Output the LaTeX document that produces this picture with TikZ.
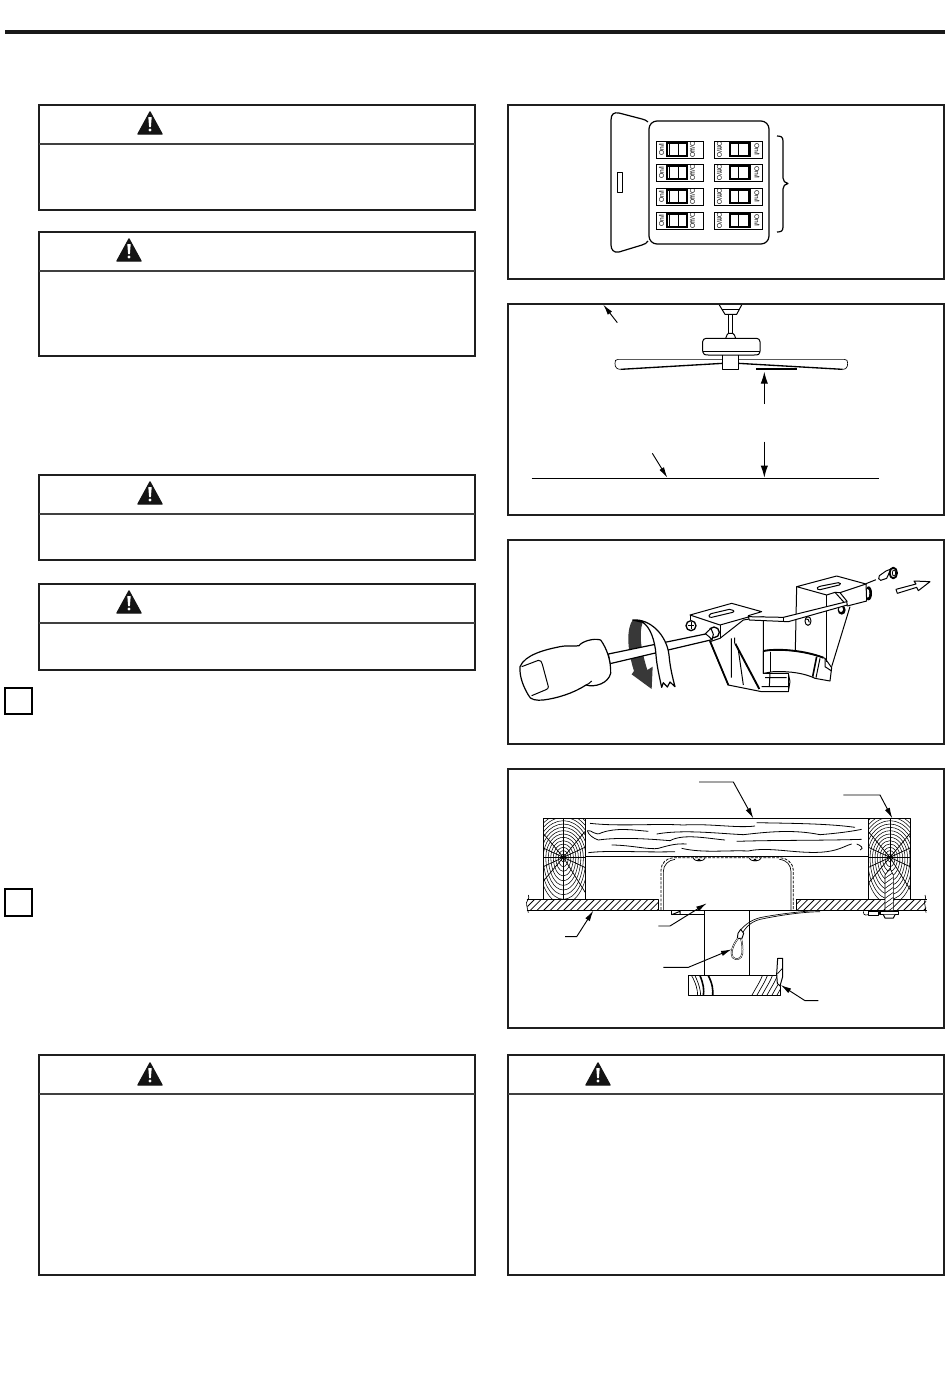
\documentclass[tikz,border=0pt]{standalone}
\usepackage{fontspec}
\setmainfont{Liberation Sans}
\usetikzlibrary{arrows.meta,patterns}
\tikzset{
  frame/.style={draw=black!88,line width=1.5pt},
  ln/.style={draw=black,line width=0.75pt,line join=round},
  thin ln/.style={draw=black,line width=0.4pt},
  lead/.style={draw=black,line width=0.7pt,-{Latex[length=8pt,width=4pt]}},
  dim/.style={draw=black,line width=0.8pt,-{Latex[length=9pt,width=5.5pt]}},
  breaker/.style={draw=black,line width=0.6pt},
  brk left/.style={font=\fontsize{5pt}{5.5pt}\selectfont,inner sep=0pt,rotate=90},
  brk right/.style={font=\fontsize{5pt}{5.5pt}\selectfont,inner sep=0pt,rotate=-90},
  wood/.style={draw=black,line width=0.4pt},
}
\newcommand{\warntri}[2]{%
  \fill[black!92,draw=black!92,line width=1pt,line join=round] (#1,#2-11) -- (#1+12,#2+11) -- (#1-12,#2+11) -- cycle;
  \fill[white] (#1-1.7,#2-6) -- (#1+1.7,#2-6) -- (#1+0.9,#2+4) -- (#1-0.9,#2+4) -- cycle;
  \fill[white] (#1,#2+7) circle[radius=1.7];
}
\newcommand{\warnbox}[7]{% x1 y1 x2 y2 yline xtri ytri
  \draw[frame] (#1,#2) rectangle (#3,#4);
  \draw[draw=black!75,line width=1.3pt] (#1,#5) -- (#3,#5);
  \warntri{#6}{#7}
}
\newcommand{\brkL}[1]{% top y
  \draw[breaker] (656,#1) rectangle (703,#1+17);
  \draw[breaker,line width=0.8pt] (667,#1+2) rectangle (687,#1+15);
  \draw[breaker] (678,#1+2) -- (678,#1+15);
  \draw[breaker] (669,#1+2) -- (669,#1+15);
  \node[brk left] (onl#1) at (661.5,#1+8.5) {On/I};
  \node[brk left] (ofl#1) at (692.5,#1+8.5) {Off/O};
}
\newcommand{\brkR}[1]{%
  \draw[breaker] (714,#1) rectangle (762,#1+17);
  \draw[breaker,line width=0.8pt] (730,#1+2) rectangle (750,#1+15);
  \draw[breaker] (738,#1+2) -- (738,#1+15);
  \draw[breaker] (748,#1+2) -- (748,#1+15);
  \node[brk right] (ofr#1) at (719.5,#1+8.5) {Off/O};
  \node[brk right] (onr#1) at (757,#1+8.5) {On/I};
}
\newcommand{\joist}[6]{% x1 y1 x2 y2 cx cy
  \begin{scope}
    \clip (#1,#2) rectangle (#3,#6);
    \foreach \r in {1,...,14} {
      \draw[wood] (#5,#6) ellipse[x radius=\r*7.5,y radius=\r*10];
    }
  \end{scope}
  \begin{scope}
    \clip (#1,#6) rectangle (#3,#4);
    \foreach \r in {1,...,10} {
      \draw[wood] (#5,#6) ellipse[x radius=\r*7.5,y radius=\r*14];
    }
  \end{scope}
  \begin{scope}
    \clip (#1,#2) rectangle (#3,#4);
    \foreach \a in {0,-25,-50,-90,-130,-155,180,155,130,90,58,25} {
      \draw[wood,line width=0.55pt] (#5,#6) -- ++(\a:220);
    }
    \fill (#5,#6) circle[radius=5];
  \end{scope}
  \draw[ln] (#1,#2) rectangle (#3,#4);
}
\begin{document}
\begin{tikzpicture}[x=0.75pt,y=-0.75pt]
\useasboundingbox (0,0) rectangle (950,1397);
\fill[white] (0,0) rectangle (950,1397);
% top rule
\draw[black!90,line width=3pt] (5,31.5) -- (945,31.5);
% warning boxes
\warnbox{39}{105}{475}{210}{144}{150}{123}
\warnbox{39}{232}{475}{356}{271}{129}{250}
\warnbox{39}{475}{475}{560}{514}{150}{493}
\warnbox{39}{584}{475}{670}{623}{129}{602}
\warnbox{39}{1055}{475}{1275}{1094}{150}{1074}
\warnbox{508}{1055}{944}{1275}{1094}{598}{1074}
% step squares
\draw[draw=black,line width=0.9pt] (5,688) rectangle (32,714);
\draw[draw=black,line width=0.9pt] (5,889) rectangle (32,916);
% panels
\draw[frame] (508,105) rectangle (944,279);
\draw[frame] (508,304) rectangle (944,515);
\draw[frame] (508,540) rectangle (944,744);
\draw[frame] (508,769) rectangle (944,1028);

% ---------- panel 1 : breaker box
\draw[ln,line width=0.9pt] (648,122) .. controls (646,120) and (645,120) .. (642,119) -- (619,113) .. controls (614,112) and (611,114) .. (611,120) -- (611,245) .. controls (611,250) and (614,253) .. (619,252) -- (642,245) .. controls (645,244) and (647,243) .. (648,241);
\draw[ln] (617,172) rectangle (622,192);
\draw[ln,line width=0.9pt,rounded corners=6pt] (649,121) rectangle (769,244);
\foreach \y in {141,164,188,212} { \brkL{\y} \brkR{\y} }
\draw[ln,line width=0.9pt] (777,136) .. controls (781,136) and (783,137) .. (783,141) -- (783,178) .. controls (783,181) and (785,183) .. (788,183.5) .. controls (785,184) and (783,186) .. (783,189) -- (783,227) .. controls (783,231) and (781,232) .. (777,232);

% ---------- panel 2 : fan height
\begin{scope}[shift={(510,300)},scale=1/3]
  \draw[ln,fill=white] (628,15) -- (645,43) -- (680,43) -- (695,15);
  \draw[ln] (636,28) -- (688,28);
  \draw[ln] (655,45) -- (655,100) (668,45) -- (668,100);
  \draw[ln] (647,115) .. controls (650,108) and (652,100) .. (655,100) -- (668,100) .. controls (672,100) and (675,108) .. (677,115);
  \draw[ln,rounded corners=2.5pt] (578,155) -- (578,115) -- (750,115) -- (750,155);
  \draw[ln] (578,155) -- (750,155);
  \draw[ln] (578,155) .. controls (578,163) and (585,165) .. (595,165) -- (733,165) .. controls (745,165) and (750,163) .. (750,155);
  \draw[ln] (638,165) -- (638,207) -- (685,207) -- (685,165);
  \draw[ln,line width=0.5pt] (638,178) -- (325,178) .. controls (316,178) and (315,182) .. (315,190) .. controls (315,202) and (320,208) .. (332,208);
  \draw[ln,line width=1pt] (332,208) -- (638,190);
  \draw[ln,line width=0.5pt] (685,178) -- (1003,178) .. controls (1011,178) and (1013,182) .. (1013,190) .. controls (1013,202) and (1008,208) .. (998,208);
  \draw[ln,line width=1pt] (998,208) -- (685,190);
  \draw[ln,line width=0.8pt] (738,207) -- (860,207);
  \draw[ln,line width=0.9pt] (65,535) -- (1108,535);
  \coordinate (fanup) at (763,312); \coordinate (fanupe) at (763,215);
  \coordinate (fandn) at (763,425); \coordinate (fandne) at (763,533);
  \coordinate (flA) at (427,460); \coordinate (flB) at (472,533);
  \coordinate (clA) at (322,68); \coordinate (clB) at (280,14);
  \draw[dim] (fanup) -- (fanupe);
  \draw[dim] (fandn) -- (fandne);
  \draw[lead] (flA) -- (flB);
  \draw[lead] (clA) -- (clB);
\end{scope}

% ---------- panel 3 : screwdriver and bracket
\begin{scope}[shift={(510,545)},scale=1/3]
  % rotation band (back dark part)
  \fill[black!78] (368,225) .. controls (350,250) and (350,310) .. (372,378) -- (365,388) -- (425,432) -- (428,365) -- (412,375) .. controls (395,320) and (385,270) .. (398,232) -- cycle;
  % shaft
  \draw[ln,line width=0.9pt,fill=white] (295,327) -- (596,265) -- (606,284) -- (300,356) -- cycle;
  % rotation band front (light)
  \draw[ln,line width=0.9pt,fill=white] (368,225) .. controls (420,220) and (470,270) .. (477,330) .. controls (480,365) and (487,395) .. (495,425) -- (480,411) -- (472,426) -- (460,413) -- (455,427) .. controls (448,395) and (440,360) .. (438,330) .. controls (435,285) and (420,245) .. (398,232) -- cycle;
  % handle
  \draw[ln,line width=0.9pt,fill=white] (30,365) .. controls (45,330) and (100,315) .. (150,305) .. controls (175,300) and (195,305) .. (207,302) .. controls (215,290) and (250,278) .. (272,285) .. controls (290,310) and (303,345) .. (302,385) .. controls (295,415) and (255,428) .. (228,420) .. controls (190,445) and (140,460) .. (100,465) .. controls (80,467) and (60,465) .. (55,450) .. controls (40,425) and (28,395) .. (30,365) -- cycle;
  \draw[ln] (245,408) .. controls (240,415) and (232,418) .. (228,420);
  \draw[ln] (35,365) -- (85,346) .. controls (92,345) and (95,350) .. (97,358) -- (115,425) .. controls (116,430) and (112,432) .. (108,434) -- (65,452);
  % body lower part
  \draw[ln,fill=white] (630,280) -- (600,290) -- (655,420) -- (755,440) -- (835,440) -- (840,410) -- (835,385) -- (760,385) -- (760,215) -- (700,225) -- cycle;
  \draw[ln,line width=1.3pt] (600,288) -- (655,420);
  \draw[ln,line width=1.4pt] (676,296) -- (748,432);
  \draw[ln] (664,280) -- (664,398) (674,278) -- (674,296) (685,315) -- (700,420);
  \draw[ln,fill=white] (760,345) -- (760,385) -- (835,385) -- (835,440);
  \draw[ln] (755,425) -- (835,425) (765,398) -- (830,398) (780,385) -- (778,425);
  \draw[ln,fill=white] (760,318) .. controls (800,310) and (880,315) .. (945,340) -- (965,368) -- (960,408) -- (915,400) .. controls (885,385) and (840,378) .. (790,380) -- (790,380) -- (760,385) -- cycle;
  \draw[ln,line width=1.4pt] (760,318) .. controls (800,310) and (880,315) .. (940,338);
  \draw[ln] (780,320) -- (780,380);
  \draw[ln,line width=1.2pt] (920,335) -- (908,395);
  \draw[ln] (930,340) -- (918,398);
  \draw[ln] (945,342) -- (945,365) -- (965,378);
  % right bracket body
  \draw[ln] (860,125) -- (856,315);
  \draw[ln] (950,150) -- (950,352);
  \draw[ln] (1020,185) -- (965,365);
  % washer behind
  \fill (1076,145) ellipse[x radius=10,y radius=21];
  \fill[white] (1073,145) ellipse[x radius=5,y radius=13];
  % right top plate
  \draw[ln,fill=white] (860,125) -- (980,93) -- (1068,117) -- (1070,168) -- (1012,183) -- (975,142) -- (950,150) -- cycle;
  \draw[ln] (990,143) -- (1068,117);
  \draw[ln] (975,142) -- (990,143) -- (1012,170);
  \draw[ln,fill=white] (922,128) .. controls (925,125) and (930,124) .. (934,123) -- (985,113) .. controls (992,113) and (994,118) .. (988,120) -- (930,134) .. controls (924,135) and (920,131) .. (922,128) -- cycle;
  % shelf
  \fill (995,195) ellipse[x radius=12,y radius=14];
  \fill[white] (993,193) ellipse[x radius=6,y radius=8];
  \draw[ln,fill=white] (715,215) -- (820,217) -- (1010,170) -- (1012,180) -- (835,230) -- (718,225) -- cycle;
  \draw[ln,line width=1.2pt] (820,217) -- (820,230);
  \draw[ln,fill=white] (894,228) ellipse[x radius=9,y radius=13];
  \draw[ln] (887,222) .. controls (892,220) and (898,224) .. (898,232);
  % upper bracket left
  \draw[ln,fill=white] (540,210) -- (665,175) -- (755,200) -- (715,212) -- (715,216) -- (630,240) -- cycle;
  \draw[ln] (630,240) -- (630,280);
  \draw[ln] (540,210) -- (540,225);
  \draw[ln,fill=white] (597,212) .. controls (597,209) and (600,207) .. (603,206) -- (658,193) .. controls (665,193) and (678,198) .. (668,202) -- (605,217) .. controls (600,218) and (597,216) .. (597,212) -- cycle;
  % screws
  \draw[ln,line width=1pt,fill=white] (543,242) circle[radius=15];
  \draw[ln] (533,242) -- (553,242) (543,232) -- (543,252);
  \draw[ln,line width=1pt,fill=white] (612,262) circle[radius=16];
  \draw[ln,fill=white] (586,266) -- (603,250) -- (610,268) -- (606,284) -- (596,274) -- cycle;
  % removed screw
  \draw[ln,dash pattern=on 8pt off 2pt on 1.5pt off 2pt] (1068,116) -- (1108,100);
  \draw[ln,fill=white] (1108,92) .. controls (1104,98) and (1106,105) .. (1112,106) -- (1130,100) -- (1143,72) -- (1128,78) -- cycle;
  \draw[ln,line width=1.4pt,fill=white] (1150,84) ellipse[x radius=11,y radius=16];
  \draw[ln,line width=0.6pt] (1152,84) ellipse[x radius=5,y radius=9];
  % out arrow
  \draw[ln,fill=white] (1158,133) -- (1218,117) -- (1212,108) -- (1260,110) -- (1225,137) -- (1220,127) -- (1162,145) -- cycle;
\end{scope}

% ---------- panel 4 : mounting section
\begin{scope}[shift={(510,770)},scale=1/3]
  \joist{100}{145}{227}{388}{160}{262}
  \joist{1075}{145}{1202}{388}{1140}{262}
  \draw[ln] (227,145) -- (1075,145) (227,260) -- (1075,260);
  % grain
  \begin{scope}[line width=0.6pt]
    \draw (240,160) .. controls (330,170) and (430,160) .. (520,165) .. controls (600,160) and (680,175) .. (735,168);
    \draw (740,158) .. controls (830,160) and (950,160) .. (1035,172);
    \draw (232,182) .. controls (245,178) and (255,200) .. (275,188) .. controls (320,172) and (370,180) .. (415,184);
    \draw (440,192) .. controls (520,178) and (620,190) .. (700,194) .. controls (780,185) and (850,178) .. (930,194) .. controls (980,190) and (1020,185) .. (1055,178);
    \draw (232,182) .. controls (236,195) and (250,205) .. (265,210) .. controls (320,202) and (400,205) .. (480,212) .. controls (520,190) and (590,205) .. (645,210);
    \draw (680,214) .. controls (800,210) and (920,212) .. (1055,208);
    \draw (305,225) .. controls (360,225) and (420,240) .. (445,235) .. controls (480,225) and (500,220) .. (530,222);
    \draw (235,248) .. controls (300,240) and (400,248) .. (495,245);
    \draw (515,235) .. controls (580,250) and (650,240) .. (715,243) .. controls (780,228) and (870,255) .. (950,245) .. controls (990,240) and (1010,225) .. (1025,222);
    \draw (1040,222) .. controls (1050,225) and (1065,235) .. (1050,240);
  \end{scope}
  % ceiling
  \begin{scope}
    \clip (52,388) rectangle (445,422);
    \foreach \x in {40,60,...,500} { \draw[line width=0.6pt] (\x,422) -- (\x+34,388); }
  \end{scope}
  \begin{scope}
    \clip (858,388) rectangle (1248,422);
    \foreach \x in {840,860,...,1280} { \draw[line width=0.6pt] (\x,422) -- (\x+34,388); }
  \end{scope}
  \draw[ln] (50,388) -- (445,388) -- (445,422) -- (858,422) -- (858,388) -- (1250,388);
  \draw[ln] (50,422) -- (445,422) (858,422) -- (1250,422);
  \draw[ln,line width=0.5pt] (55,375) .. controls (62,385) and (45,395) .. (50,405) .. controls (55,415) and (50,420) .. (55,428);
  \draw[ln,line width=0.5pt] (1245,375) .. controls (1252,385) and (1238,395) .. (1245,405) .. controls (1250,415) and (1243,420) .. (1248,428);
  % outlet box
  \draw[ln,line width=0.5pt] (460,420) -- (460,305) .. controls (460,285) and (475,270) .. (495,268);
  \draw[ln,line width=0.5pt] (843,420) -- (843,305) .. controls (843,285) and (830,270) .. (808,268);
  \draw[ln,line width=0.6pt,dash pattern=on 2.2pt off 1pt] (453,420) -- (453,300) .. controls (453,280) and (470,263) .. (490,263) -- (810,263) .. controls (830,263) and (850,280) .. (850,300) -- (850,420);
  \draw[ln,line width=0.6pt] (550,265) .. controls (552,275) and (582,275) .. (585,265);
  \draw[ln,line width=0.6pt] (562,272) -- (572,272) -- (567,267) -- cycle;
  \draw[ln,line width=0.6pt] (718,265) .. controls (720,275) and (750,275) .. (753,265);
  \draw[ln,line width=0.6pt] (730,272) -- (740,272) -- (735,267) -- cycle;
  % canopy
  \draw[ln] (583,422) -- (583,615) (718,422) -- (718,615);
  \draw[ln] (485,422) -- (485,434) -- (583,434);
  \draw[ln] (510,422) -- (510,434) (485,434) -- (510,424);
  \draw[ln,line width=1pt] (1075,424) rectangle (1105,436);
  \draw[ln,line width=0.5pt] (1060,424) .. controls (1058,430) and (1062,438) .. (1075,434);
  % lag screw
  \draw[ln,line width=0.5pt,fill=white] (1125,315) -- (1140,295) -- (1150,315) -- (1150,422) -- (1125,422) -- cycle;
  \begin{scope}
    \clip (1125,315) -- (1140,295) -- (1150,315) -- (1150,422) -- (1125,422) -- cycle;
    \foreach \y in {310,325,...,440} { \draw[wood] (1125,\y) -- (1150,\y-18); }
  \end{scope}
  \draw[ln,line width=1.1pt,fill=white] (1110,424) rectangle (1165,434);
  \draw[ln,fill=white] (1120,434) -- (1125,444) -- (1150,444) -- (1155,434);
  % canopy bottom
  \draw[ln] (535,617) rectangle (810,677);
  \begin{scope}
    \clip (535,617) rectangle (810,677);
    \draw[line width=1.2pt] (570,617) .. controls (580,640) and (583,660) .. (580,677) (595,617) .. controls (607,640) and (610,660) .. (608,677);
    \draw[wood,line width=0.5pt] (545,617) .. controls (558,640) and (563,660) .. (563,677) (555,617) .. controls (566,640) and (572,660) .. (572,677);
    \foreach \x in {745,760,...,830} { \draw[wood,line width=0.5pt] (\x-20,677) .. controls (\x-5,650) and (\x+8,630) .. (\x+12,617); }
  \end{scope}
  % fin
  \draw[ln,fill=white] (803,565) -- (818,565) -- (818,620) -- (810,648) -- (802,640) -- (800,612) -- cycle;
  \draw[ln,line width=0.5pt] (802,612) -- (817,595);
  % wire
  \draw[ln,line width=0.5pt] (930,425) .. controls (880,426) and (820,434) .. (760,446) .. controls (730,451) and (712,465) .. (698,488);
  \draw[ln,line width=0.5pt] (925,421) .. controls (880,424) and (820,430) .. (760,441) .. controls (730,446) and (708,460) .. (690,482);
  \draw[ln,line width=0.7pt,fill=white] (684,490) -- (692,478) -- (701,490) -- (696,505) -- (682,505) -- cycle;
  \draw[draw=black,line width=1.2pt] (684,505) .. controls (668,525) and (660,550) .. (668,562) .. controls (678,572) and (695,568) .. (697,550) .. controls (698,535) and (697,520) .. (693,505);
  \draw[draw=white,line width=0.45pt] (684,505) .. controls (668,525) and (660,550) .. (668,562) .. controls (678,572) and (695,568) .. (697,550) .. controls (698,535) and (697,520) .. (693,505);
  % leaders
  \coordinate (a1) at (567,36); \coordinate (a1b) at (670,36); \coordinate (a1e) at (730,145);
  \coordinate (a2) at (1000,75); \coordinate (a2b) at (1110,75); \coordinate (a2e) at (1147,145);
  \coordinate (a3) at (165,500); \coordinate (a3b) at (200,500); \coordinate (a3e) at (250,422);
  \coordinate (a4) at (445,468); \coordinate (a4b) at (480,468); \coordinate (a4e) at (590,400);
  \coordinate (a5) at (460,592); \coordinate (a5b) at (535,592); \coordinate (a5e) at (665,538);
  \coordinate (a6) at (925,692); \coordinate (a6b) at (885,692); \coordinate (a6e) at (812,645);
  \draw[lead] (a1) -- (a1b) -- (a1e);
  \draw[lead] (a2) -- (a2b) -- (a2e);
  \draw[lead] (a3) -- (a3b) -- (a3e);
  \draw[lead] (a4) -- (a4b) -- (a4e);
  \draw[lead] (a5) -- (a5b) -- (a5e);
  \draw[lead] (a6) -- (a6b) -- (a6e);
\end{scope}
\end{tikzpicture}
\end{document}
